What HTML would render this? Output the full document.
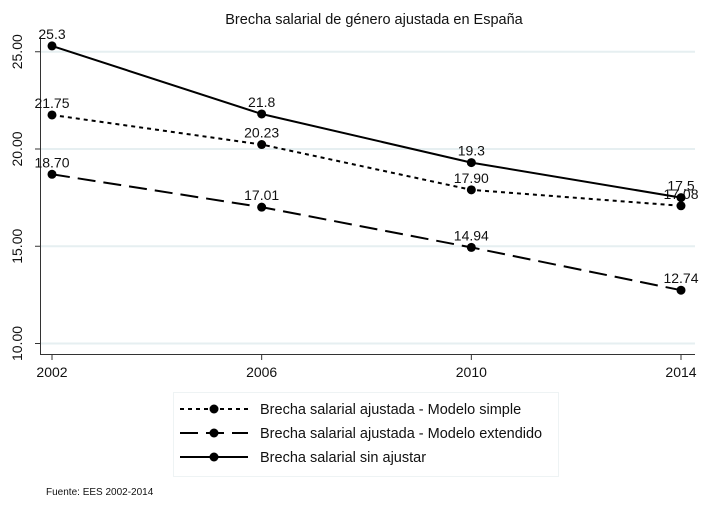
<!DOCTYPE html>
<html><head><meta charset="utf-8"><style>
body{margin:0;background:#fff;font-family:"Liberation Sans",Arial,sans-serif}
svg text{font-family:"Liberation Sans",Arial,sans-serif}
</style></head><body>
<svg id="chart" width="708" height="518" xmlns="http://www.w3.org/2000/svg"></svg>
<script>
const years=[2002,2006,2010,2014];
const simple=[21.75,20.23,17.90,17.08];
const extendido=[18.70,17.01,14.94,12.74];
const sinAjustar=[25.3,21.8,19.3,17.5];
const simpleLabels=["21.75","20.23","17.90","17.08"];
const extLabels=["18.70","17.01","14.94","12.74"];
const sinLabels=["25.3","21.8","19.3","17.5"];
const yTicks=[10,15,20,25];
const yTickLabels=["10.00","15.00","20.00","25.00"];

const NS="http://www.w3.org/2000/svg";
const svg=document.getElementById('chart');
function xs(v){return 52+(v-2002)*(681-52)/12;}
function ys(v){return 343.5-(v-10)*19.45;}
function mk(tag,attrs,parent){const e=document.createElementNS(NS,tag);for(const k in attrs)e.setAttribute(k,attrs[k]);(parent||svg).appendChild(e);return e;}

let t=mk('text',{x:374,y:24,'font-size':14.5,'text-anchor':'middle',fill:'#111'});t.textContent='Brecha salarial de género ajustada en España';



yTicks.forEach((v,i)=>{
  const g=mk('line',{x1:41,x2:695,y1:ys(v),y2:ys(v),stroke:'#e6eff1','stroke-width':2});
  
  
  const tk=mk('line',{x1:35,x2:41,y1:ys(v),y2:ys(v),stroke:'#333'});
  
  
  const l=mk('text',{x:0,y:0,'font-size':14,'text-anchor':'middle',fill:'#111',transform:`translate(${22},${ys(v)}) rotate(-90)`});
  l.textContent=yTickLabels[i];
  
  
});
let ax=mk('line',{x1:40.5,x2:40.5,y1:37,y2:354.5,stroke:'#333'});


ax=mk('line',{x1:40,x2:695,y1:354.5,y2:354.5,stroke:'#333'});


years.forEach(y=>{
  const tk=mk('line',{x1:xs(y),x2:xs(y),y1:354,y2:360,stroke:'#333'});
  
  
  const l=mk('text',{x:xs(y),y:377,'font-size':14,'text-anchor':'middle',fill:'#111'});
  l.textContent=y;
  
  
});

const series=[
 {vals:simple,labels:simpleLabels,dash:'4,4',name:'series-simple'},
 {vals:extendido,labels:extLabels,dash:'18,8',name:'series-extendido'},
 {vals:sinAjustar,labels:sinLabels,dash:'',name:'series-sin-ajustar'}];
series.forEach(s=>{
  const pts=s.vals.map((v,i)=>xs(years[i])+','+ys(v)).join(' ');
  const pl=mk('polyline',{points:pts,fill:'none',stroke:'#000','stroke-width':2,'stroke-dasharray':s.dash});
  
  
  s.vals.forEach((v,i)=>{
    const c=mk('circle',{cx:xs(years[i]),cy:ys(v),r:4.5,fill:'#000'});
    
    
    const l=mk('text',{x:xs(years[i]),y:ys(v)-7,'font-size':14,'text-anchor':'middle',fill:'#111'});
    l.textContent=s.labels[i];
    
    
  });
});

const lg=mk('g',{});


mk('rect',{x:173.5,y:392.5,width:385,height:84,fill:'#fff',stroke:'#eef3f4'},lg);
const legendNames=['Brecha salarial ajustada - Modelo simple','Brecha salarial ajustada - Modelo extendido','Brecha salarial sin ajustar'];
legendNames.forEach((n,i)=>{
  const y=409+i*24;
  const e=mk('g',{},lg);
  
  
  mk('line',{x1:180,x2:248,y1:y,y2:y,stroke:'#000','stroke-width':2,'stroke-dasharray':series[i].dash},e);
  mk('circle',{cx:214,cy:y,r:4.5,fill:'#000'},e);
  const tx=mk('text',{x:260,y:y+5,'font-size':14.5,fill:'#111'},e);
  tx.textContent=n;
});
t=mk('text',{x:46,y:495,'font-size':10,fill:'#111'});t.textContent='Fuente: EES 2002-2014';


</script>
</body></html>
